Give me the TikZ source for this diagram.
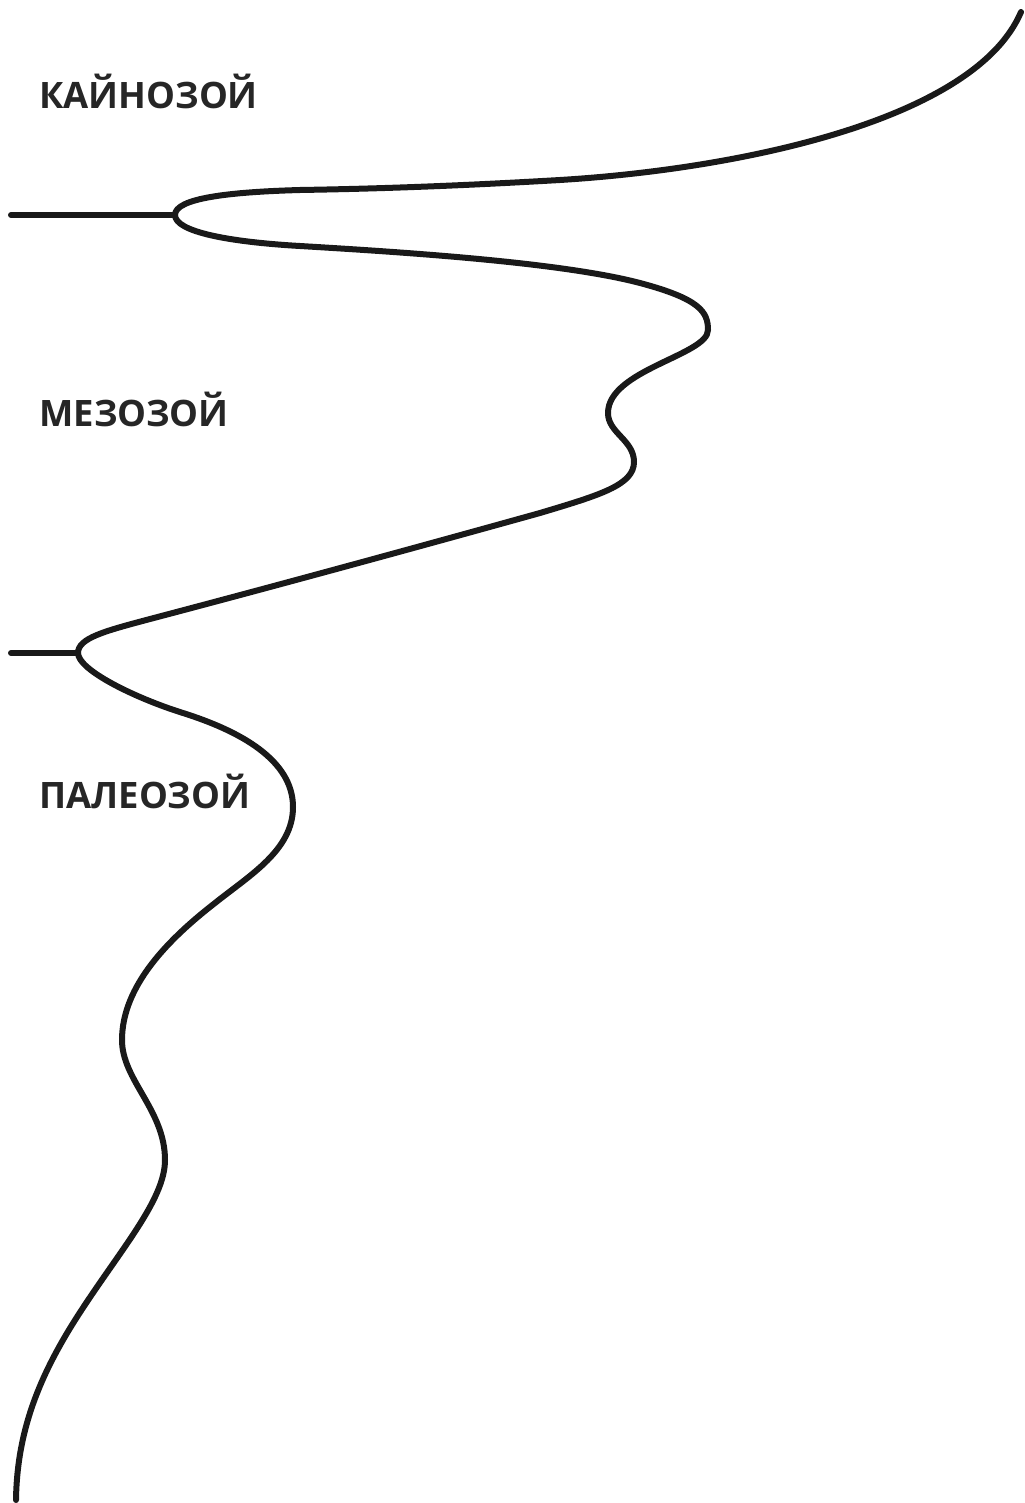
\documentclass[tikz,border=0pt]{standalone}
\usepackage{fontspec}
\setmainfont{Open Sans}
\usepackage{tikz}

\begin{document}
\begin{tikzpicture}[
    x=0.5pt, y=-0.5pt,
    eralabel/.style={anchor=west, inner sep=0pt, font=\fontsize{18.2}{22}\selectfont\bfseries, text=black!85},
    curveline/.style={line width=3pt, line cap=round, line join=round, black!90}
]
\useasboundingbox (0,0) rectangle (1024,1503);

% era names
\node[eralabel] (cenozoic) at (39,91) {КАЙНОЗОЙ};
\node[eralabel] (mesozoic) at (39,409) {МЕЗОЗОЙ};
\node[eralabel] (paleozoic) at (39,791) {ПАЛЕОЗОЙ};

% branch points
\coordinate (splitA) at (175,215);
\coordinate (splitB) at (78,653);
\coordinate (top) at (1021,12);
\coordinate (bottom) at (16,1500);

\draw[curveline] (11,215) -- (splitA);
\draw[curveline] (11,653) -- (splitB);

% the curve, top to bottom
\draw[curveline] (top)
    .. controls (975,120) and (740,169) .. (560,180)
    .. controls (440,187) and (360,189) .. (300,190)
    .. controls (230,192) and (175,198) .. (splitA)
    .. controls (175,232) and (230,242) .. (300,246)
    .. controls (400,252) and (560,262) .. (640,283)
    .. controls (700,299) and (708,312) .. (708,330)
    .. controls (708,355) and (608,370) .. (608,413)
    .. controls (608,433) and (634,440) .. (634,462)
    .. controls (634,485) and (600,495) .. (540,513)
    .. controls (400,552) and (260,590) .. (150,619)
    .. controls (105,631) and (78,638) .. (splitB)
    .. controls (78,670) and (135,698) .. (183,713)
    .. controls (240,731) and (293,760) .. (293,807)
    .. controls (293,850) and (250,875) .. (215,903)
    .. controls (170,938) and (122,985) .. (122,1040)
    .. controls (122,1080) and (165,1110) .. (165,1160)
    .. controls (165,1200) and (120,1250) .. (77,1317)
    .. controls (40,1375) and (17,1430) .. (bottom);
\end{tikzpicture}
\end{document}
